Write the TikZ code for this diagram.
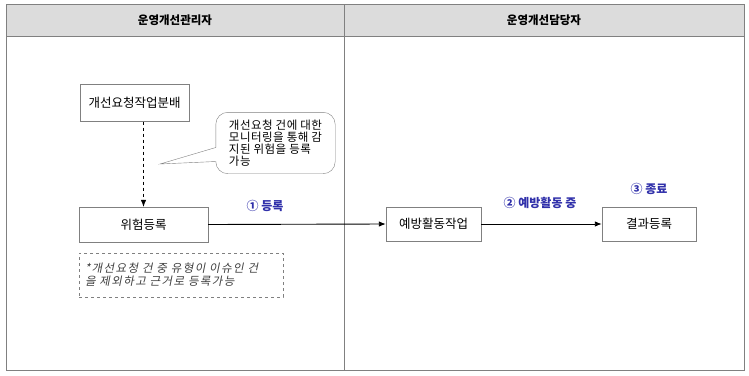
\documentclass[tikz,border=0pt]{standalone}
\usepackage{fontspec}
\setmainfont{Noto Sans CJK KR}
\newfontfamily\slantfont[FakeSlant=0.2,LetterSpace=12]{Noto Sans CJK KR}
\newfontfamily\widefont[LetterSpace=4]{Noto Sans CJK KR}
\usepackage{xcolor}
\usetikzlibrary{arrows.meta}
\definecolor{lanegray}{RGB}{128,128,128}
\definecolor{headfill}{RGB}{220,220,220}
\definecolor{stepblue}{RGB}{48,48,170}
\tikzset{
  taskbox/.style={draw=lanegray,fill=white,minimum height=35pt,font=\fontsize{12.5}{15}\selectfont},
  steplabel/.style={text=stepblue,font=\fontsize{12}{14}\selectfont\bfseries},
  flow/.style={-{Latex[length=7pt,width=5.5pt]},black,line width=0.9pt},
}

\begin{document}
\begin{tikzpicture}[x=1pt,y=-1pt]
\useasboundingbox (0,0) rectangle (749,375);

% swimlanes
\fill[headfill] (6,4) rectangle (744.5,36);
\draw[lanegray] (6,4) rectangle (744.5,370);
\draw[lanegray] (6,36) -- (744.5,36);
\draw[lanegray] (344,4) -- (344,370);
\node[font=\fontsize{11.5}{13}\selectfont\bfseries] (mgr) at (175,20) {운영개선관리자};
\node[font=\fontsize{11.5}{13}\selectfont\bfseries] (staff) at (544,20) {운영개선담당자};

% tasks
\node[taskbox,minimum width=109pt,minimum height=37pt] (dist) at (134.5,103) {개선요청작업분배};
\node[taskbox,minimum width=129pt] (risk) at (143.5,224.5) {위험등록};
\node[taskbox,minimum width=95pt,minimum height=34pt] (prev) at (433.5,224) {예방활동작업};
\node[taskbox,minimum width=94pt,minimum height=34pt] (result) at (649,224) {결과등록};

% callout
\node[minimum width=119pt,minimum height=61pt,align=left,inner sep=0pt,
  font=\fontsize{11.5}{12}\selectfont\widefont] (monitor) at (275.5,143)
  {개선요청 건에 대한\\모니터링을 통해 감\\지된 위험을 등록\\가능};
\coordinate (tip) at (160,164);
\draw[lanegray,rounded corners=12pt]
  ([yshift=-4.5pt]monitor.west) -- (monitor.north west) -- (monitor.north east)
  -- (monitor.south east) -- (monitor.south west) [sharp corners]
  -- ([yshift=-18.5pt]monitor.west) -- (tip) -- cycle;

% note
\node[draw=lanegray,dashed,minimum width=204pt,minimum height=44pt,text width=192pt,
  inner xsep=6pt,align=left,text=black!75,font=\fontsize{11.5}{13}\selectfont\slantfont]
  (memo) at (181,275)
  {*개선요청 건 중 유형이 이슈인 건\\을 제외하고 근거로 등록가능};

% flows
\draw[flow,dashed,line width=0.7pt] (dist.south -| risk.north) -- (risk.north);
\draw[flow] (risk.east) -- (prev.west);
\draw[flow] (prev.east) -- (result.west);

\node[steplabel] (s1) at (265,206) {① 등록};
\node[steplabel] (s2) at (540,203) {② 예방활동 중};
\node[steplabel] (s3) at (649,189) {③ 종료};
\end{tikzpicture}
\end{document}
